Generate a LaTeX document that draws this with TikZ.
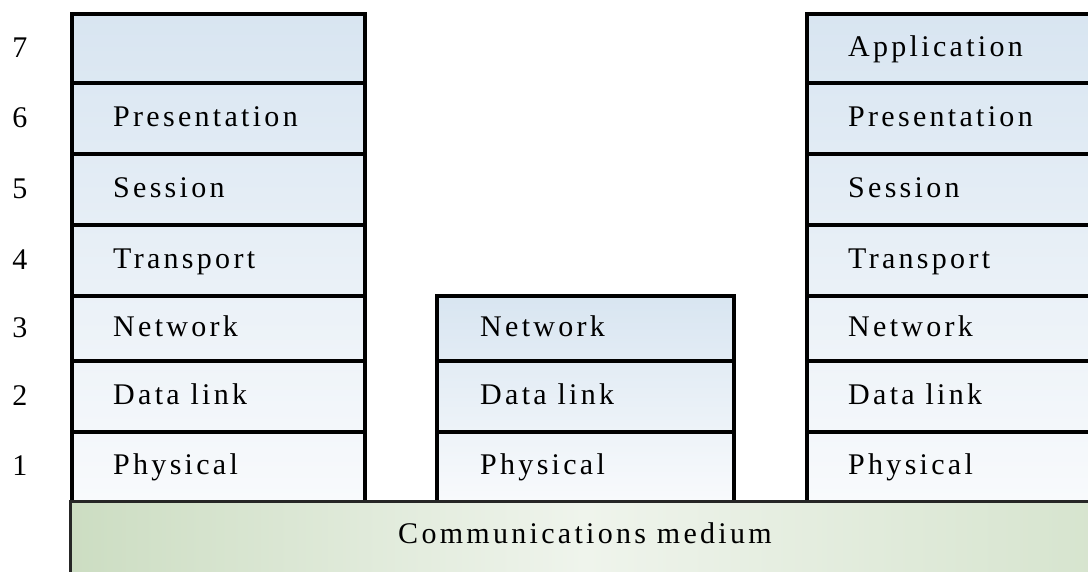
\documentclass[tikz,border=0pt]{standalone}
\usepackage{fontspec}
\setmainfont{Liberation Serif}
\newfontfamily\spaced{Liberation Serif}[LetterSpace=11]
\usetikzlibrary{calc}
\definecolor{bluetop}{RGB}{216,229,241}
\definecolor{bluebot}{RGB}{248,250,252}
\definecolor{greenL}{RGB}{204,221,194}
\definecolor{greenM}{RGB}{239,244,236}
\definecolor{greenR}{RGB}{214,228,206}
\begin{document}
\begin{tikzpicture}[x=1pt,y=-1pt,
  cell/.style={draw=black,line width=3.5pt,rectangle,inner sep=0pt,anchor=north west},
  lbl/.style={anchor=base west,inner sep=0pt,font=\spaced\fontsize{30}{34}\selectfont},
  num/.style={anchor=base,inner sep=0pt,font=\fontsize{30}{34}\selectfont}]
\useasboundingbox (0,0) rectangle (1088,571);
\clip (0,0) rectangle (1088,571);
% stack fills
\shade[top color=bluetop,bottom color=bluebot] (70,12) rectangle (363,500);
\shade[top color=bluetop,bottom color=bluebot] (435,294) rectangle (732,500);
\shade[top color=bluetop,bottom color=bluebot] (805,12) rectangle (1100,500);
% left stack
\foreach \n/\t/\h in {7/12/69,6/81/71,5/152/71,4/223/71,3/294/65,2/359/71,1/430/70}{
  \node[cell,minimum width=293pt,minimum height=\h pt] (L\n) at (70,\t) {};
  \node[num] (N\n) at ($(L\n.west)+(-50,9)$) {\n};
}
% right stack
\foreach \n/\t/\h in {7/12/69,6/81/71,5/152/71,4/223/71,3/294/65,2/359/71,1/430/70}{
  \node[cell,minimum width=300pt,minimum height=\h pt] (R\n) at (805,\t) {};
}
% middle stack
\foreach \n/\t/\h in {3/294/65,2/359/71,1/430/70}{
  \node[cell,minimum width=297pt,minimum height=\h pt] (M\n) at (435,\t) {};
}
% labels
\node[lbl] (Lt6) at ($(L6.west)+(43,8)$) {Presentation};
\node[lbl] (Lt5) at ($(L5.west)+(43,8)$) {Session};
\node[lbl] (Lt4) at ($(L4.west)+(43,8)$) {Transport};
\node[lbl] (Lt3) at ($(L3.west)+(43,8)$) {Network};
\node[lbl] (Lt2) at ($(L2.west)+(43,8)$) {Data link};
\node[lbl] (Lt1) at ($(L1.west)+(43,8)$) {Physical};
\node[lbl] (Mt3) at ($(M3.west)+(45,8)$) {Network};
\node[lbl] (Mt2) at ($(M2.west)+(45,8)$) {Data link};
\node[lbl] (Mt1) at ($(M1.west)+(45,8)$) {Physical};
\node[lbl] (Rt7) at ($(R7.west)+(43,8)$) {Application};
\node[lbl] (Rt6) at ($(R6.west)+(43,8)$) {Presentation};
\node[lbl] (Rt5) at ($(R5.west)+(43,8)$) {Session};
\node[lbl] (Rt4) at ($(R4.west)+(43,8)$) {Transport};
\node[lbl] (Rt3) at ($(R3.west)+(43,8)$) {Network};
\node[lbl] (Rt2) at ($(R2.west)+(43,8)$) {Data link};
\node[lbl] (Rt1) at ($(R1.west)+(43,8)$) {Physical};
% communications medium
\shade[left color=greenL,right color=greenR,middle color=greenM] (70,501) rectangle (1100,580);
\node[cell,draw=none,minimum width=1030pt,minimum height=79pt] (comm) at (70,501) {};
\draw[line width=3pt,draw=black!85] (comm.south west) -- (comm.north west) -- (comm.north east);
\node[lbl,anchor=base] (commt) at (585,543) {Communications medium};
\end{tikzpicture}
\end{document}
